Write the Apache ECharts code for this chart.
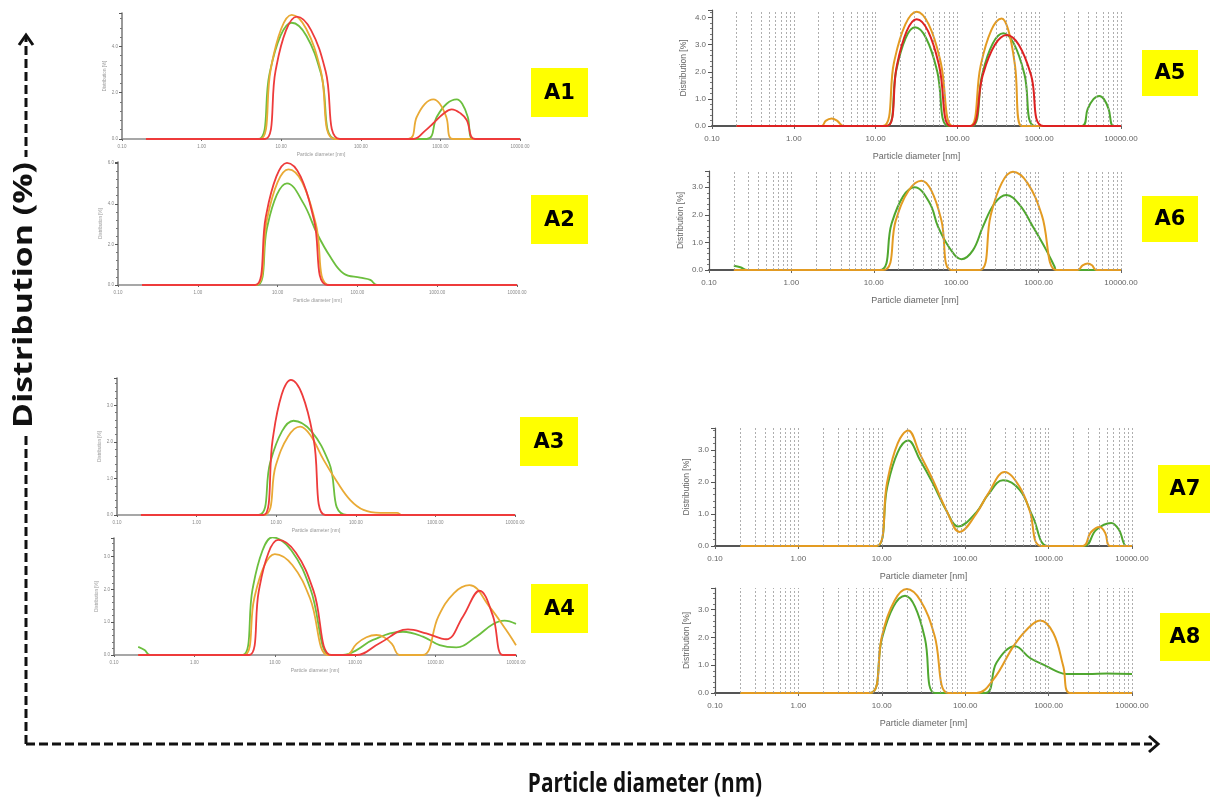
<!DOCTYPE html>
<html><head><meta charset="utf-8">
<script src="https://cdn.jsdelivr.net/npm/echarts@6/dist/echarts.min.js"></script>
<style>html,body{margin:0;padding:0;background:#fff}#c{width:1210px;height:802px}</style>
</head><body><div id="c"></div>
<script>
// ---------- data: [particle diameter (nm), distribution (%)] ----------
const xTickLabels = ['0.10','1.00','10.00','100.00','1000.00','10000.00'];
const gridTicks = [0.2,0.3,0.4,0.5,0.6,0.7,0.8,0.9,1,2,3,4,5,6,7,8,9,10,20,30,40,50,60,70,80,90,100,200,300,400,500,600,700,800,900,1000,2000,3000,4000,5000,6000,7000,8000,9000,10000];
const panelLabels = ['A1','A2','A3','A4','A5','A6','A7','A8'];

const a1Green  = [[0.2,0],[5.15,0],[7.11,2.79],[9.82,4.46],[13.55,5.02],[20.7,4.46],[31.8,2.79],[48.8,0],[673,0],[899,0.95],[1200,1.52],[1603,1.71],[1879,1.52],[2208,0.95],[2588,0],[10000,0]];
const a1Yellow = [[0.2,0],[5.42,0],[7.36,2.98],[10.0,4.76],[13.55,5.36],[20.6,4.76],[31.3,2.98],[47.4,0],[395,0],[504,0.95],[640,1.52],[815,1.71],[982,1.52],[1186,0.95],[1429,0],[10000,0]];
const a1Red    = [[0.2,0],[6.25,0],[8.49,2.94],[11.5,4.69],[15.7,5.28],[23.8,4.69],[36.1,2.94],[54.8,0],[456,0],[640,0.35],[815,0.68],[1100,1.1],[1387,1.28],[1800,1.1],[2138,0.82],[2723,0],[10000,0]];

const a2Green  = [[0.2,0],[5.5,0],[7.35,2.79],[9.79,4.45],[13.1,5.01],[21.1,4.02],[31.1,2.55],[45.7,1.39],[67.1,0.57],[108.6,0.36],[145,0.25],[176,0],[10000,0]];
const a2Yellow = [[0.2,0],[5.35,0],[7.31,3.17],[10.0,5.07],[13.7,5.70],[20.3,5.07],[30.2,3.0],[44.8,0],[10000,0]];
const a2Red    = [[0.2,0],[5.24,0],[7.11,3.35],[9.66,5.35],[13.1,6.02],[19.4,5.35],[28.6,3.2],[42.3,0],[10000,0]];

const a3Green  = [[0.2,0],[5.98,0],[8.39,1.43],[11.8,2.29],[16.5,2.58],[27.7,2.29],[46.2,1.43],[77.5,0],[10000,0]];
const a3Yellow = [[0.2,0],[6.92,0],[9.86,1.35],[14.1,2.15],[20.0,2.42],[26.8,2.19],[39.4,1.51],[58.1,0.91],[85.3,0.41],[125,0.14],[203,0.06],[330,0.06],[381,0],[10000,0]];
const a3Red    = [[0.2,0],[6.92,0],[9.02,2.06],[11.7,3.29],[15.3,3.70],[21.3,3.29],[29.6,2.06],[41.3,0],[10000,0]];

const a4Green  = [[0.2,0.25],[0.24,0.15],[0.28,0],[3.97,0],[5.28,2.0],[7.03,3.19],[9.35,3.59],[16.1,3.19],[27.9,2.0],[48.2,0],[70.5,0],[104,0.15],[166,0.46],[393,0.71],[695,0.56],[1122,0.30],[1807,0.23],[3206,0.56],[5152,0.94],[7200,1.05],[10000,0.95]];
const a4Yellow = [[0.2,0],[4.12,0],[5.53,1.71],[7.45,2.74],[10.0,3.08],[16.6,2.74],[27.6,1.71],[45.9,0],[77.8,0],[104,0.34],[138,0.54],[183,0.61],[229,0.54],[286,0.34],[357,0],[695,0],[1084,1.18],[1694,1.89],[2642,2.13],[4688,1.47],[7551,0.76],[10000,0.30]];
const a4Red    = [[0.2,0],[4.80,0],[6.32,1.95],[8.34,3.12],[11.0,3.51],[18.3,3.12],[30.4,1.95],[50.6,0],[103.5,0],[201,0.36],[453,0.78],[766,0.66],[1358,0.48],[2183,1.17],[3524,1.96],[5152,1.2],[6855,0],[10000,0]];

const a5Green  = [[0.2,0],[13.7,0],[17.8,2.02],[23.3,3.24],[30.3,3.64],[41.5,3.24],[56.6,2.02],[77.4,0],[150,0],[201,1.90],[270,3.04],[364,3.42],[490,3.04],[661,1.90],[889,0],[3311,0],[3908,0.62],[4603,0.99],[5433,1.11],[6194,0.99],[7063,0.62],[8054,0],[10000,0]];
const a5Yellow = [[0.2,0],[2.19,0],[2.45,0.19],[2.9,0.28],[3.4,0.19],[4.03,0],[12.2,0],[16.8,2.35],[23.1,3.75],[31.8,4.22],[44.6,3.75],[62.5,2.35],[87.7,0],[143,0],[192,2.21],[259,3.53],[348,3.97],[420,3.53],[507,2.21],[611,0],[10000,0]];
const a5Red    = [[0.2,0],[13.7,0],[18.1,2.19],[24.0,3.50],[31.8,3.94],[43.8,3.50],[60.1,2.19],[82.8,0],[146,0],[204,1.87],[286,2.99],[401,3.36],[565,2.99],[796,1.87],[1122,0],[10000,0]];

const a6Green  = [[0.2,0.15],[0.24,0.1],[0.29,0],[11.8,0],[16.4,1.67],[22.7,2.67],[31.4,3.0],[47.8,2.42],[60.1,1.57],[83.4,0.79],[115.6,0.39],[160,0.72],[211,1.57],[293,2.42],[406,2.72],[589,2.36],[853,1.57],[1239,0.72],[1563,0.12],[1640,0],[10000,0]];
const a6Yellow = [[0.2,0],[13.0,0],[18.5,1.80],[26.5,2.88],[37.9,3.24],[50.0,2.88],[66.1,1.80],[87.5,0],[193,0],[262,1.98],[358,3.16],[488,3.56],[731,3.16],[1096,1.98],[1640,0],[2994,0],[3420,0.17],[3961,0.24],[4450,0.17],[5003,0],[10000,0]];

const a7Green  = [[0.2,0],[8.64,0],[11.6,1.83],[15.5,2.92],[20.7,3.29],[28.5,2.7],[41.1,1.95],[59.6,1.1],[82.0,0.61],[136,1.05],[188,1.6],[284,2.05],[450,1.75],[649,0.9],[981,0],[2698,0],[3700,0.5],[5636,0.72],[7000,0.5],[8531,0],[10000,0]];
const a7Yellow = [[0.2,0],[8.64,0],[11.6,2.0],[15.5,3.2],[20.7,3.60],[28.5,2.88],[41.1,2.05],[59.6,1.11],[85.9,0.44],[136,1.01],[188,1.63],[297,2.31],[450,1.84],[592,1.11],[818,0],[2576,0],[3200,0.42],[4083,0.59],[4750,0.42],[5483,0],[10000,0]];

const a8Green  = [[0.2,0],[7.22,0],[10.0,1.94],[13.8,3.11],[19.0,3.5],[25.0,3.11],[33.0,1.94],[43.5,0],[173,0],[238,1.1],[396,1.68],[598,1.26],[865,1.02],[1250,0.78],[1648,0.68],[3000,0.68],[5000,0.70],[10000,0.68]];
const a8Yellow = [[0.2,0],[7.22,0],[10.1,2.08],[14.2,3.32],[19.9,3.74],[29.2,3.32],[42.8,2.08],[62.7,0],[137,0],[217,0.48],[378,1.68],[546,2.28],[789,2.61],[1138,2.16],[1500,0.96],[1806,0],[10000,0]];

// ---------- layout / style ----------
const LEFT_COL = {green:'#6cbf3e', yellow:'#e9aa35', red:'#ee3b3b'};
const RIGHT_COL = {green:'#4fa72f', yellow:'#e39b22', red:'#dd2222'};

const panels = [
  {side:'L', grid:{left:122,top:13,width:398,height:126}, ymax:5.44, yint:2, series:[['green',a1Green],['yellow',a1Yellow],['red',a1Red]], box:[531,68,57,49]},
  {side:'L', grid:{left:118,top:162,width:399,height:123}, ymax:6.06, yint:2, series:[['green',a2Green],['yellow',a2Yellow],['red',a2Red]], box:[531,195,57,49]},
  {side:'L', grid:{left:117,top:378,width:398,height:137}, ymax:3.75, yint:1, series:[['green',a3Green],['yellow',a3Yellow],['red',a3Red]], box:[520,417,58,49]},
  {side:'L', grid:{left:114,top:538,width:402,height:117}, ymax:3.57, yint:1, series:[['green',a4Green],['yellow',a4Yellow],['red',a4Red]], box:[531,584,57,49]},
  {side:'R', grid:{left:712,top:10,width:409,height:116}, ymax:4.28, yint:1, series:[['green',a5Green],['yellow',a5Yellow],['red',a5Red]], box:[1142,50,56,46]},
  {side:'R', grid:{left:709,top:171,width:412,height:99}, ymax:3.59, yint:1, series:[['green',a6Green],['yellow',a6Yellow]], box:[1142,196,56,46]},
  {side:'R', grid:{left:715,top:428,width:417,height:118}, ymax:3.68, yint:1, series:[['green',a7Green],['yellow',a7Yellow]], box:[1158,465,54,48]},
  {side:'R', grid:{left:715,top:588,width:417,height:105}, ymax:3.78, yint:1, series:[['green',a8Green],['yellow',a8Yellow]], box:[1160,613,50,48]}
];

const grids = [], xAxes = [], yAxes = [], series = [], graphic = [];
panels.forEach((p, i) => {
  const L = p.side === 'L';
  grids.push(Object.assign({containLabel:false}, p.grid));
  xAxes.push({
    gridIndex:i, type:'log', logBase:10, min:0.1, max:10000, splitNumber:5,
    axisLine:{lineStyle:{color: L ? '#8a8a8a' : '#555', width: L ? 1.5 : 2}},
    axisTick:{show:true, length: L ? 2 : 3, lineStyle:{color:'#666'}},
    axisLabel:{fontSize: L ? 4.5 : 8, color: L ? '#888' : '#666', margin: L ? 5 : 9,
      showMinLabel:true, showMaxLabel:true,
      formatter: v => xTickLabels[Math.round(Math.log10(v)) + 1]},
    splitLine:{show:false},
    name:'Particle diameter [nm]', nameLocation:'middle', nameGap: L ? 13 : 26,
    nameTextStyle:{fontSize: L ? 5 : 9, color: L ? '#999' : '#666'}
  });
  yAxes.push({
    gridIndex:i, type:'value', min:0, max:p.ymax, interval:p.yint,
    axisLine:{show:true, lineStyle:{color: L ? '#777' : '#555', width: L ? 1.5 : 1.2}},
    axisTick:{show:true, length: L ? 3 : 4, lineStyle:{color:'#555'}},
    minorTick:{show:true, splitNumber: 5, length: 2, lineStyle:{color:'#777'}},
    axisLabel:{fontSize: L ? 4.5 : 8, color: L ? '#888' : '#666', margin: L ? 4 : 6,
      formatter: v => (Math.abs(v / p.yint - Math.round(v / p.yint)) < 1e-6 ? v.toFixed(1) : '')},
    splitLine:{show:false},
    name:'Distribution [%]', nameLocation:'middle', nameRotate:90, nameGap: L ? 15 : 24,
    nameTextStyle:{fontSize: L ? 4.5 : 8.5, color: L ? '#999' : '#666'}
  });
  if (!L) {
    series.push({
      type:'line', xAxisIndex:i, yAxisIndex:i, data:[], z:1, silent:true,
      markLine:{silent:true, symbol:['none','none'], label:{show:false}, animation:false,
        lineStyle:{color:'#9a9a9a', type:[2,2], width:0.8},
        emphasis:{disabled:true},
        data: gridTicks.map(v => ({xAxis:v}))}
    });
  }
  p.series.forEach(([c, d], k) => {
    const col = (L ? LEFT_COL : RIGHT_COL)[c];
    series.push({
      type:'line', xAxisIndex:i, yAxisIndex:i, data:d, showSymbol:false, symbol:'none',
      smooth:0.4, silent:true, z:3 + k,
      lineStyle:{color:col, width: L ? 1.8 : 2}, itemStyle:{color:col}
    });
  });
  const [bx, by, bw, bh] = p.box;
  graphic.push({type:'rect', shape:{x:bx, y:by, width:bw, height:bh}, style:{fill:'#ffff00'}, z:10});
  graphic.push({type:'text', x:bx + bw / 2, y:by + bh / 2 + 1, z:11,
    style:{text:panelLabels[i], font:'bold 21px "DejaVu Sans", sans-serif', fill:'#000', align:'center', verticalAlign:'middle'}});
});

// big axes arrows and titles
graphic.push(
  {type:'line', shape:{x1:26, y1:744, x2:26, y2:36}, style:{stroke:'#111', lineWidth:3, lineDash:[9,4]}, z:5},
  {type:'polyline', shape:{points:[[19,45],[26,35],[33,45]]}, style:{stroke:'#111', lineWidth:3, fill:null}, z:5},
  {type:'line', shape:{x1:26, y1:744, x2:1152, y2:744}, style:{stroke:'#111', lineWidth:3, lineDash:[9,4]}, z:5},
  {type:'polyline', shape:{points:[[1149,736],[1158,744],[1149,752]]}, style:{stroke:'#111', lineWidth:3, fill:null}, z:5},
  {type:'text', x:24, y:295, rotation:Math.PI / 2, scaleX:1.25, scaleY:1, z:6,
    style:{text:'Distribution (%)', font:'bold 27px "Open Sans", sans-serif', fill:'#111', align:'center', verticalAlign:'middle', backgroundColor:'#fff', padding:[0,4]}},
  {type:'text', x:645, y:785, scaleX:0.8, scaleY:1, z:6,
    style:{text:'Particle diameter (nm)', font:'bold 26px "Open Sans", sans-serif', fill:'#111', align:'center', verticalAlign:'middle'}}
);

const chart = echarts.init(document.getElementById('c'), null, {renderer:'canvas'});
chart.setOption({
  animation:false,
  backgroundColor:'#fff',
  grid:grids, xAxis:xAxes, yAxis:yAxes, series:series, graphic:graphic
});
</script></body></html>
